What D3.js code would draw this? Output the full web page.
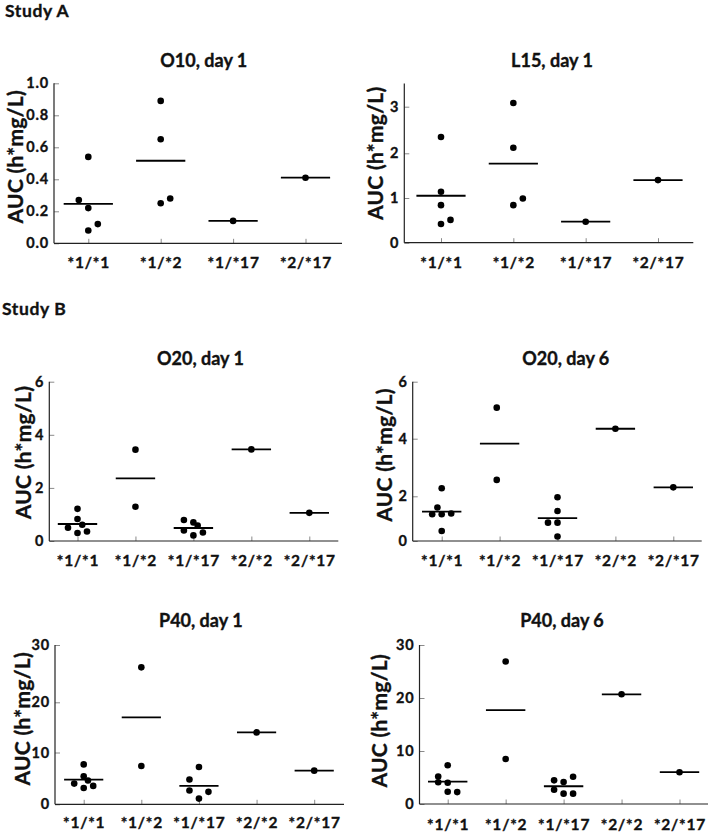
<!DOCTYPE html>
<html><head><meta charset="utf-8">
<script src="https://cdn.jsdelivr.net/npm/d3@7"></script>
<style>
html,body{margin:0;padding:0;background:#fff;}
svg{display:block;}
text{font-family:Lato,"Open Sans",sans-serif;font-weight:700;fill:#111;stroke:#111;stroke-width:0.35px;}
</style></head><body>
<svg id="chart" width="709" height="835"></svg>
<script>
// ---------- DATA ----------
const studyHeadings = ["Study A", "Study B"];
const genotypesA = ["*1/*1", "*1/*2", "*1/*17", "*2/*17"];
const genotypesB = ["*1/*1", "*1/*2", "*1/*17", "*2/*2", "*2/*17"];
const yAxisLabel = "AUC (h*mg/L)";

const o10Day1Values = [[0.54, 0.27, 0.22, 0.12, 0.08], [0.89, 0.65, 0.28, 0.25], [0.14], [0.41]];
const o10Day1Means = [0.246, 0.516, 0.14, 0.41];
const o10Ticks = [0, 0.2, 0.4, 0.6, 0.8, 1.0];

const l15Day1Values = [[2.35, 1.14, 0.84, 0.51, 0.42], [3.08, 2.12, 0.99, 0.84], [0.47], [1.40]];
const l15Day1Means = [1.05, 1.77, 0.47, 1.40];
const l15Ticks = [0, 1, 2, 3];

const o20Day1Values = [[1.21, 0.83, 0.61, 0.50, 0.36, 0.30], [3.44, 1.29], [0.79, 0.70, 0.58, 0.40, 0.32, 0.21], [3.45], [1.06]];
const o20Day1Means = [0.64, 2.36, 0.49, 3.45, 1.06];
const o20Day6Values = [[2.28, 1.50, 1.20, 1.20, 1.23, 0.45], [5.09, 2.57], [1.96, 1.34, 0.82, 0.82, 0.20], [4.35], [2.31]];
const o20Day6Means = [1.31, 3.83, 1.02, 4.35, 2.31];
const o20Ticks = [0, 2, 4, 6];

const p40Day1Values = [[7.7, 5.4, 4.6, 4.0, 3.55, 3.15], [26.1, 7.4], [7.2, 4.8, 2.65, 2.4, 1.1], [14.0], [6.5]];
const p40Day1Means = [4.75, 17.0, 3.55, 14.0, 6.5];
const p40Day6Values = [[7.3, 5.2, 4.1, 4.0, 2.3, 2.25], [26.9, 8.5], [5.15, 4.46, 4.14, 2.7, 1.95, 1.95], [20.7], [6.0]];
const p40Day6Means = [4.22, 17.7, 3.35, 20.7, 6.0];
const p40Ticks = [0, 10, 20, 30];

// ---------- LAYOUT (horizontal jitter slots of the dots) ----------
const o10Jitter = [[0, -1, 0, 1, 0], [0, 0, 1, 0], [0], [0]];
const l15Jitter = [[0, 0, 0, 1, 0], [0, 0, 1, 0], [0], [0]];
const o20d1Jitter = [[0, 0, 0.5, -1, 1, 0], [0, 0], [-1, 0, 0.45, -1, 1, 0], [0], [0]];
const o20d6Jitter = [[0, -0.45, -1, 0, 1, 0], [-0.3, -0.3], [0, 0, -1, 0, 0], [0], [0]];
const p40d1Jitter = [[0, 0, 0.45, -1, 1, 0], [0, 0], [0, -1, -1, 1, 0], [0], [0]];
const p40d6Jitter = [[0, -1, -1, 0, 0, 1], [0, 0], [1, -1, 0, -1, 0, 1], [0], [0]];

const panels = [
  {title: "O10, day 1", cats: genotypesA, values: o10Day1Values, means: o10Day1Means, jitter: o10Jitter,
   ticks: o10Ticks, fmt: d3.format(".1f"), stops: [0, 1], stopPx: [243.3, 83.3], axisMax: 1.0,
   left: 54, right: 342, xFirst: 88.3, xLast: 305.5, titleX: 203.8, titleY: 66.7, labX: 23.3, labY: 156.7, xlabY: 268.3},
  {title: "L15, day 1", cats: genotypesA, values: l15Day1Values, means: l15Day1Means, jitter: l15Jitter,
   ticks: l15Ticks, fmt: d3.format("d"), stops: l15Ticks, stopPx: [242.7, 198, 153.3, 106.7], axisMax: 3.5,
   left: 404.3, right: 693.3, xFirst: 441, xLast: 658, titleX: 552, titleY: 66.7, labX: 383.3, labY: 153.3, xlabY: 268.3},
  {title: "O20, day 1", cats: genotypesB, values: o20Day1Values, means: o20Day1Means, jitter: o20d1Jitter,
   ticks: o20Ticks, fmt: d3.format("d"), stops: [0, 6], stopPx: [541, 381.7], axisMax: 6,
   left: 49.3, right: 338.3, xFirst: 77.5, xLast: 309.3, titleX: 200.5, titleY: 365, labX: 31, labY: 452.5, xlabY: 565.5},
  {title: "O20, day 6", cats: genotypesB, values: o20Day6Values, means: o20Day6Means, jitter: o20d6Jitter,
   ticks: o20Ticks, fmt: d3.format("d"), stops: o20Ticks, stopPx: [541, 496.3, 438.7, 381.7], axisMax: 6,
   left: 412.7, right: 701.7, xFirst: 441.7, xLast: 673.3, titleX: 565.8, titleY: 365, labX: 391.7, labY: 455, xlabY: 565.5},
  {title: "P40, day 1", cats: genotypesB, values: p40Day1Values, means: p40Day1Means, jitter: p40d1Jitter,
   ticks: p40Ticks, fmt: d3.format("d"), stops: p40Ticks, stopPx: [804.3, 752.5, 702.3, 645], axisMax: 30,
   left: 55, right: 344, xFirst: 83.7, xLast: 314.2, titleX: 200.8, titleY: 627, labX: 30, labY: 718.8, xlabY: 828.5},
  {title: "P40, day 6", cats: genotypesB, values: p40Day6Values, means: p40Day6Means, jitter: p40d6Jitter,
   ticks: p40Ticks, fmt: d3.format("d"), stops: [0, 30], stopPx: [804, 645], axisMax: 30,
   left: 419.5, right: 708, xFirst: 447.7, xLast: 679.5, titleX: 562, titleY: 627, labX: 386.7, labY: 720.8, xlabY: 829.5}
];

const jitterUnit = 9.5, dotR = 3.3;

// ---------- DRAW ----------
const svg = d3.select("#chart");

svg.selectAll("text.study").data(studyHeadings).join("text")
  .attr("class", "study")
  .attr("x", (d, i) => i === 0 ? 5 : 2)
  .attr("y", (d, i) => i === 0 ? 17 : 315)
  .style("font-size", "17.5px").style("letter-spacing", "0.6px")
  .text(d => d);

panels.forEach(p => {
  const g = svg.append("g");
  const x = d3.scalePoint().domain(p.cats).range([p.xFirst, p.xLast]);
  const y = d3.scaleLinear().domain(p.stops).range(p.stopPx);
  const step = x.step();
  const lineW = step * 0.68;

  // y axis ticks + labels
  const ya = g.append("g").attr("transform", `translate(${p.left},0)`)
    .call(d3.axisLeft(y).tickValues(p.ticks).tickFormat(p.fmt).tickSize(-5).tickPadding(5));
  ya.select(".domain").remove();
  ya.selectAll(".tick line").attr("stroke", "#8a8a8a").attr("stroke-width", 1);
  ya.selectAll(".tick text").attr("font-family", null).attr("font-size", null)
    .style("font-size", "14.5px").style("letter-spacing", "0.8px");

  // x axis ticks + labels
  const xa = g.append("g").attr("transform", `translate(0,${y(0)})`)
    .call(d3.axisBottom(x).tickSize(-4.5).tickPadding(0));
  xa.select(".domain").remove();
  xa.selectAll(".tick line").attr("stroke", "#8a8a8a").attr("stroke-width", 1);
  xa.selectAll(".tick text").attr("font-family", null).attr("font-size", null)
    .attr("dy", null).attr("y", p.xlabY - y(0))
    .style("font-size", "15.5px").style("letter-spacing", "0.8px");

  // axis lines
  g.append("line").attr("x1", p.left).attr("x2", p.left).attr("y1", y(p.axisMax)).attr("y2", y(0))
    .attr("stroke", "#222").attr("stroke-width", 1.2);
  g.append("line").attr("x1", p.left).attr("x2", p.right).attr("y1", y(0)).attr("y2", y(0))
    .attr("stroke", "#222").attr("stroke-width", 1.2);

  // mean lines
  g.selectAll("line.mean").data(p.means).join("line").attr("class", "mean")
    .attr("x1", (d, i) => x(p.cats[i]) - lineW / 2)
    .attr("x2", (d, i) => x(p.cats[i]) + lineW / 2)
    .attr("y1", d => y(d)).attr("y2", d => y(d))
    .attr("stroke", "#000").attr("stroke-width", 1.8);

  // dots
  const pts = p.values.flatMap((arr, i) => arr.map((v, j) => ({cat: p.cats[i], v, jit: p.jitter[i][j]})));
  g.selectAll("circle").data(pts).join("circle")
    .attr("cx", d => x(d.cat) + d.jit * jitterUnit)
    .attr("cy", d => y(d.v))
    .attr("r", dotR).attr("fill", "#000");

  // title
  g.append("text").attr("x", p.titleX).attr("y", p.titleY).attr("text-anchor", "middle")
    .style("font-size", "18px").text(p.title);

  // y label
  g.append("text").attr("transform", `translate(${p.labX},${p.labY}) rotate(-90)`)
    .attr("text-anchor", "middle").style("font-size", "21px").style("letter-spacing", "0.3px").text(yAxisLabel);
});
</script>
</body></html>
